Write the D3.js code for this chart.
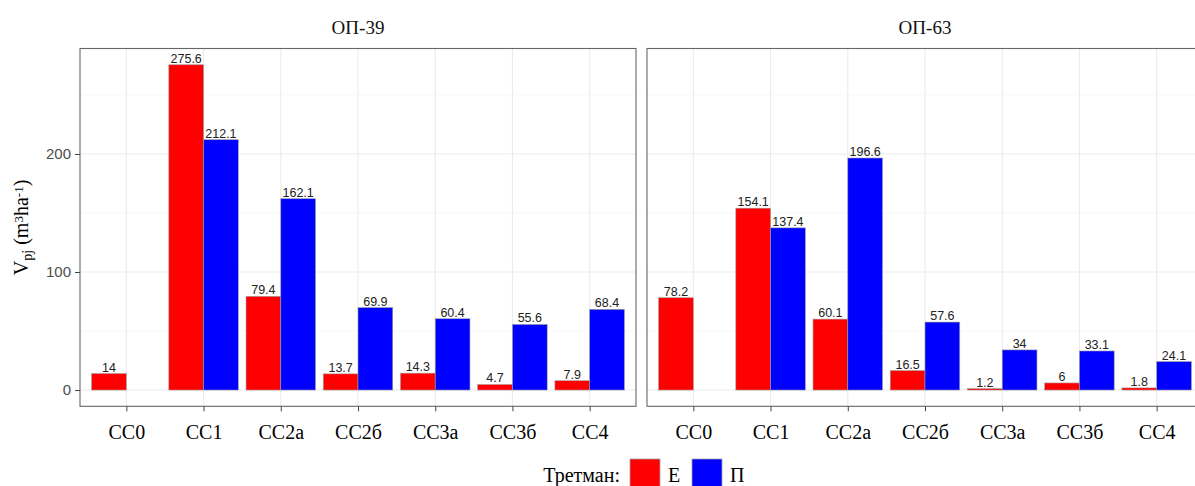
<!DOCTYPE html>
<html><head><meta charset="utf-8">
<script src="https://cdn.jsdelivr.net/npm/d3@7"></script>
<style>body{margin:0;background:#fff}</style>
</head><body>
<script>
const categories = ["CC0","CC1","CC2а","CC2б","CC3а","CC3б","CC4"];
const panels = ["ОП-39","ОП-63"];
const treatments = ["Е","П"];
const op39_E = [14, 275.6, 79.4, 13.7, 14.3, 4.7, 7.9];
const op39_P = [null, 212.1, 162.1, 69.9, 60.4, 55.6, 68.4];
const op63_E = [78.2, 154.1, 60.1, 16.5, 1.2, 6, 1.8];
const op63_P = [null, 137.4, 196.6, 57.6, 34, 33.1, 24.1];
const yTicks = [0, 100, 200];
const yMinor = [50, 150, 250];
const colors = {"Е":"#ff0000","П":"#0000ff"};

const SERIF = "'Liberation Serif', 'Times New Roman', serif";
const SANS = "'Liberation Sans', Arial, sans-serif";
const W = 1195, H = 486;
const svg = d3.select("body").append("svg").attr("width", W).attr("height", H)
  .style("font-family", SERIF);

const seriesByPanel = {"ОП-39": {"Е": op39_E, "П": op39_P}, "ОП-63": {"Е": op63_E, "П": op63_P}};
const maxV = d3.max([...op39_E, ...op39_P, ...op63_E, ...op63_P]);
const y = d3.scaleLinear().domain([-0.05*maxV, maxV*1.05]).range([406.3, 48.5]);

const panelX = [80, 647];
const panelW = 556;

panels.forEach((p, pi) => {
  const x0 = panelX[pi];
  const g = svg.append("g").attr("transform", `translate(${x0},0)`);
  const n = categories.length;
  const unit = panelW / (n - 1 + 1.2);
  const x = d3.scalePoint().domain(categories).range([0.6*unit, panelW - 0.6*unit]);
  const bw = unit * 0.9;
  yMinor.forEach(v => g.append("line").attr("x1",0).attr("x2",panelW).attr("y1",y(v)).attr("y2",y(v)).attr("stroke","#f2f2f2").attr("stroke-width",0.6));
  yTicks.forEach(v => g.append("line").attr("x1",0).attr("x2",panelW).attr("y1",y(v)).attr("y2",y(v)).attr("stroke","#ebebeb").attr("stroke-width",1.1));
  categories.forEach(c => g.append("line").attr("x1",x(c)).attr("x2",x(c)).attr("y1",y.range()[1]).attr("y2",y.range()[0]).attr("stroke","#ebebeb").attr("stroke-width",1.1));
  const data = [];
  categories.forEach((c, i) => {
    treatments.forEach((t, ti) => {
      const v = seriesByPanel[p][t][i];
      if (v != null) data.push({c, t, ti, v});
    });
  });
  g.selectAll("rect.bar").data(data).enter().append("rect")
    .attr("x", d => x(d.c) - bw/2 + d.ti*bw/2)
    .attr("width", bw/2)
    .attr("y", d => y(d.v))
    .attr("height", d => y(0) - y(d.v))
    .attr("fill", d => colors[d.t])
    .attr("stroke", "#a0a0a0").attr("stroke-width", 0.6);
  g.selectAll("text.lbl").data(data).enter().append("text")
    .attr("x", d => x(d.c) - bw/2 + d.ti*bw/2 + bw/4)
    .attr("y", d => y(d.v) - 2)
    .attr("text-anchor","middle")
    .style("font-family", SANS)
    .style("font-size","12.5px").attr("fill","#222")
    .text(d => d.v);
  g.append("rect").attr("x",0).attr("y",y.range()[1]).attr("width",panelW).attr("height",y.range()[0]-y.range()[1])
    .attr("fill","none").attr("stroke","#666").attr("stroke-width",1.1);
  const xa = g.append("g").attr("transform",`translate(0,${y.range()[0]})`)
    .call(d3.axisBottom(x).tickSize(5).tickPadding(14));
  xa.attr("font-family", null);
  xa.select(".domain").remove();
  xa.selectAll("line").attr("stroke","#444");
  xa.selectAll("text").style("font-family", SERIF).style("font-size","20px").attr("fill","#000");
  svg.append("text").attr("x", x0 + panelW/2).attr("y", 34).attr("text-anchor","middle")
    .style("font-family", SERIF).style("font-size","19px").attr("fill","#111").text(p);
  if (pi === 0) {
    const ya = g.append("g").call(d3.axisLeft(y).tickValues(yTicks).tickSize(5).tickPadding(4));
    ya.select(".domain").remove();
    ya.selectAll("line").attr("stroke","#444");
    ya.selectAll("text").style("font-family", SANS).style("font-size","15px").attr("fill","#4d4d4d");
  }
});

const yt = svg.append("text").attr("transform", `translate(28,${(y.range()[0]+y.range()[1])/2}) rotate(-90)`)
  .attr("text-anchor","middle").style("font-family", SERIF).style("font-size","20px").attr("fill","#000");
yt.append("tspan").text("V");
yt.append("tspan").attr("baseline-shift","-25%").style("font-size","14px").text("pj");
yt.append("tspan").text(" (m");
yt.append("tspan").attr("baseline-shift","40%").style("font-size","13px").text("3");
yt.append("tspan").text("ha");
yt.append("tspan").attr("baseline-shift","40%").style("font-size","13px").text("-1");
yt.append("tspan").text(")");

const lg = svg.append("g");
lg.append("text").attr("x", 620).attr("y", 482).attr("text-anchor","end").style("font-family", SERIF).style("font-size","20px").attr("fill","#000").text("Третман:");
treatments.forEach((t, i) => {
  const lx = 630 + i*62;
  lg.append("rect").attr("x", lx).attr("y", 459).attr("width", 30).attr("height", 30)
    .attr("fill", colors[t]).attr("stroke","#a0a0a0").attr("stroke-width",0.8);
  lg.append("text").attr("x", lx + 38).attr("y", 482).style("font-family", SERIF).style("font-size","20px").attr("fill","#000").text(t);
});
</script>
</body></html>
